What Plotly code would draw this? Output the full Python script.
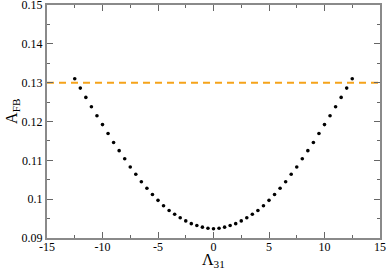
import plotly.graph_objects as go

lam31 = [-12.5, -12.0, -11.5, -11.0, -10.5, -10.0, -9.5, -9.0, -8.5, -8.0, -7.5, -7.0, -6.5,
         -6.0, -5.5, -5.0, -4.5, -4.0, -3.5, -3.0, -2.5, -2.0, -1.5, -1.0, -0.5, 0.0,
         0.5, 1.0, 1.5, 2.0, 2.5, 3.0, 3.5, 4.0, 4.5, 5.0, 5.5, 6.0, 6.5, 7.0, 7.5,
         8.0, 8.5, 9.0, 9.5, 10.0, 10.5, 11.0, 11.5, 12.0, 12.5]
afb = [0.1310, 0.1286, 0.1262, 0.1238, 0.1215, 0.1192, 0.1169, 0.1146, 0.1125, 0.1104, 0.1083,
       0.1064, 0.1045, 0.1028, 0.1012, 0.0997, 0.0983, 0.0971, 0.0961, 0.0952, 0.0944, 0.0937,
       0.0932, 0.0928, 0.0925, 0.0924,
       0.0925, 0.0928, 0.0932, 0.0937, 0.0944, 0.0952, 0.0961, 0.0971, 0.0983, 0.0997, 0.1012,
       0.1028, 0.1045, 0.1064, 0.1083, 0.1104, 0.1125, 0.1146, 0.1169, 0.1192, 0.1215, 0.1238,
       0.1262, 0.1286, 0.1310]
bound_x = [-15, 15]
bound_y = [0.13, 0.13]

x_tickvals = [-15, -10, -5, 0, 5, 10, 15]
x_ticktext = ["-15", "-10", "-5", "0", "5", "10", "15"]
y_tickvals = [0.09, 0.10, 0.11, 0.12, 0.13, 0.14, 0.15]
y_ticktext = ["0.09", "0.1", "0.11", "0.12", "0.13", "0.14", "0.15"]

SERIF = "Liberation Serif"

fig = go.Figure()
fig.add_trace(go.Scatter(x=bound_x, y=bound_y, mode="lines",
                         line=dict(color="#F5A31A", width=2, dash="7px,5px"),
                         showlegend=False, hoverinfo="skip"))
fig.add_trace(go.Scatter(x=lam31, y=afb, mode="markers",
                         marker=dict(color="black", size=3.6),
                         showlegend=False))

axis_common = dict(showgrid=False, zeroline=False, showline=True, linecolor="#8a8a8a",
                   linewidth=2, mirror="ticks", ticks="inside", tickcolor="#666666",
                   ticklen=6, tickwidth=1, automargin=False, ticklabeloverflow="allow",
                   tickfont=dict(family=SERIF, size=12, color="black"))

fig.update_xaxes(range=[-15, 15], tickvals=x_tickvals, ticktext=x_ticktext,
                 ticklabelstandoff=-3,
                 minor=dict(ticks="inside", dtick=2.5, ticklen=3, tickcolor="#666666"),
                 **axis_common)
fig.update_yaxes(range=[0.09, 0.15], tickvals=y_tickvals, ticktext=y_ticktext,
                 minor=dict(ticks="inside", dtick=0.005, ticklen=3, tickcolor="#666666"),
                 **axis_common)

fig.add_annotation(text="Λ<sub>31</sub>", xref="paper", yref="paper",
                   x=0.5, y=-0.052, xanchor="center", yanchor="top", showarrow=False,
                   borderpad=0,
                   font=dict(family=SERIF, size=16, color="black"))
fig.add_annotation(text="A<sub>FB</sub>", xref="paper", yref="paper", textangle=-90,
                   x=-0.14, y=0.545, xanchor="left", yanchor="middle", showarrow=False,
                   font=dict(family=SERIF, size=16, color="black"))

fig.update_layout(width=388, height=274, margin=dict(l=47, r=8, t=5, b=36),
                  plot_bgcolor="white", paper_bgcolor="white")
fig.write_html("out.html", config={"displayModeBar": False},
               post_script="document.body.style.margin='0';")
